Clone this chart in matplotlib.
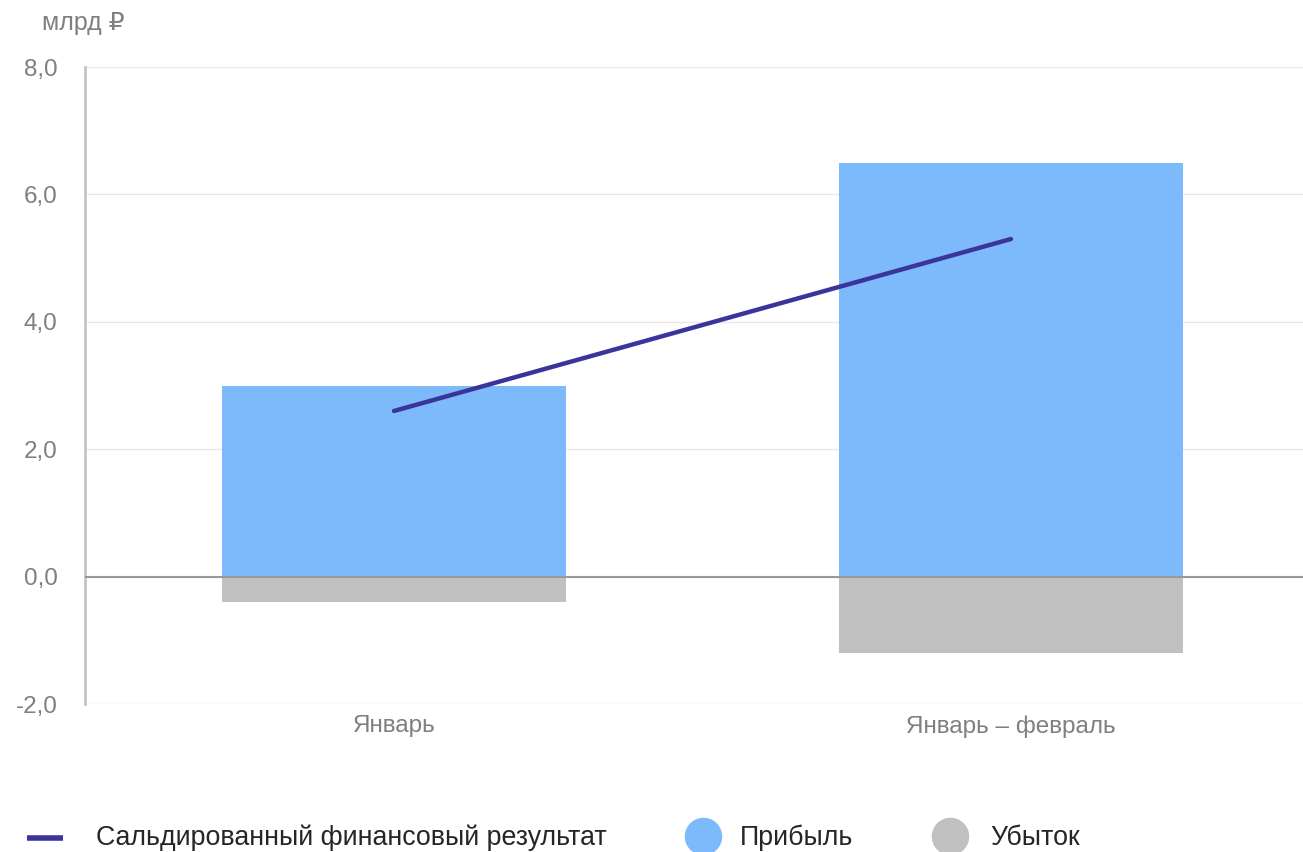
import numpy as np
import matplotlib.pyplot as plt
from matplotlib.lines import Line2D

plt.rcParams['font.family'] = ['Liberation Sans', 'DejaVu Sans']

categories = ['Январь', 'Январь – февраль']
profit = [3.0, 6.5]
loss = [-0.4, -1.2]
balance = [2.6, 5.3]
legend_labels = ['Сальдированный финансовый результат', 'Прибыль', 'Убыток']

blue = '#7cbafc'
grey = '#c0c0c0'
navy = '#3b349b'
text_grey = '#7f7f7f'

W, H = 1303, 852
fig = plt.figure(figsize=(W / 100, H / 100), dpi=100)
ax = fig.add_axes([85.5 / W, (H - 704) / H, 1234 / W, (704 - 67) / H])

x = np.arange(len(categories))
ax.bar(x, profit, width=0.557, color=blue, zorder=2)
ax.bar(x, loss, width=0.557, color=grey, zorder=2)
ax.plot(x, balance, color=navy, lw=3.2, solid_capstyle='round', zorder=3)

ax.set_xlim(-0.5, 1.5)
ax.set_ylim(-2, 8)
yt = np.arange(-2, 8.1, 2)
ax.set_yticks(yt)
ax.set_yticklabels([f'{v:.1f}'.replace('.', ',') for v in yt])
ax.set_xticks(x)
ax.set_xticklabels(categories)
ax.tick_params(axis='both', length=0, labelsize=17.5, colors=text_grey)
ax.tick_params(axis='y', pad=20)
ax.tick_params(axis='x', pad=8)

ax.grid(axis='y', color='#e8e8e8', lw=1, zorder=0)
ax.axhline(0, color='#999999', lw=1.5, zorder=4)
for s in ['top', 'right', 'bottom']:
    ax.spines[s].set_visible(False)
ax.spines['left'].set_color('#c4c4c4')
ax.spines['left'].set_linewidth(2)

fig.text(42 / W, 1 - 23 / H, 'млрд ₽', fontsize=18, color=text_grey, va='center')

# легенда внизу, вручную
ly = 1 - 838 / H
fig.add_artist(Line2D([27 / W, 63 / W], [ly, ly], color=navy, lw=4, solid_capstyle='butt'))
fig.add_artist(Line2D([703 / W], [1 - 836 / H], marker='o', ls='', ms=26, color=blue))
fig.add_artist(Line2D([950 / W], [1 - 836 / H], marker='o', ls='', ms=26, color=grey))
for tx, lab in zip([96, 740, 990], legend_labels):
    fig.text(tx / W, ly, lab, fontsize=19.3, color='#262626', va='center')

fig.savefig('out.png', dpi=100)
